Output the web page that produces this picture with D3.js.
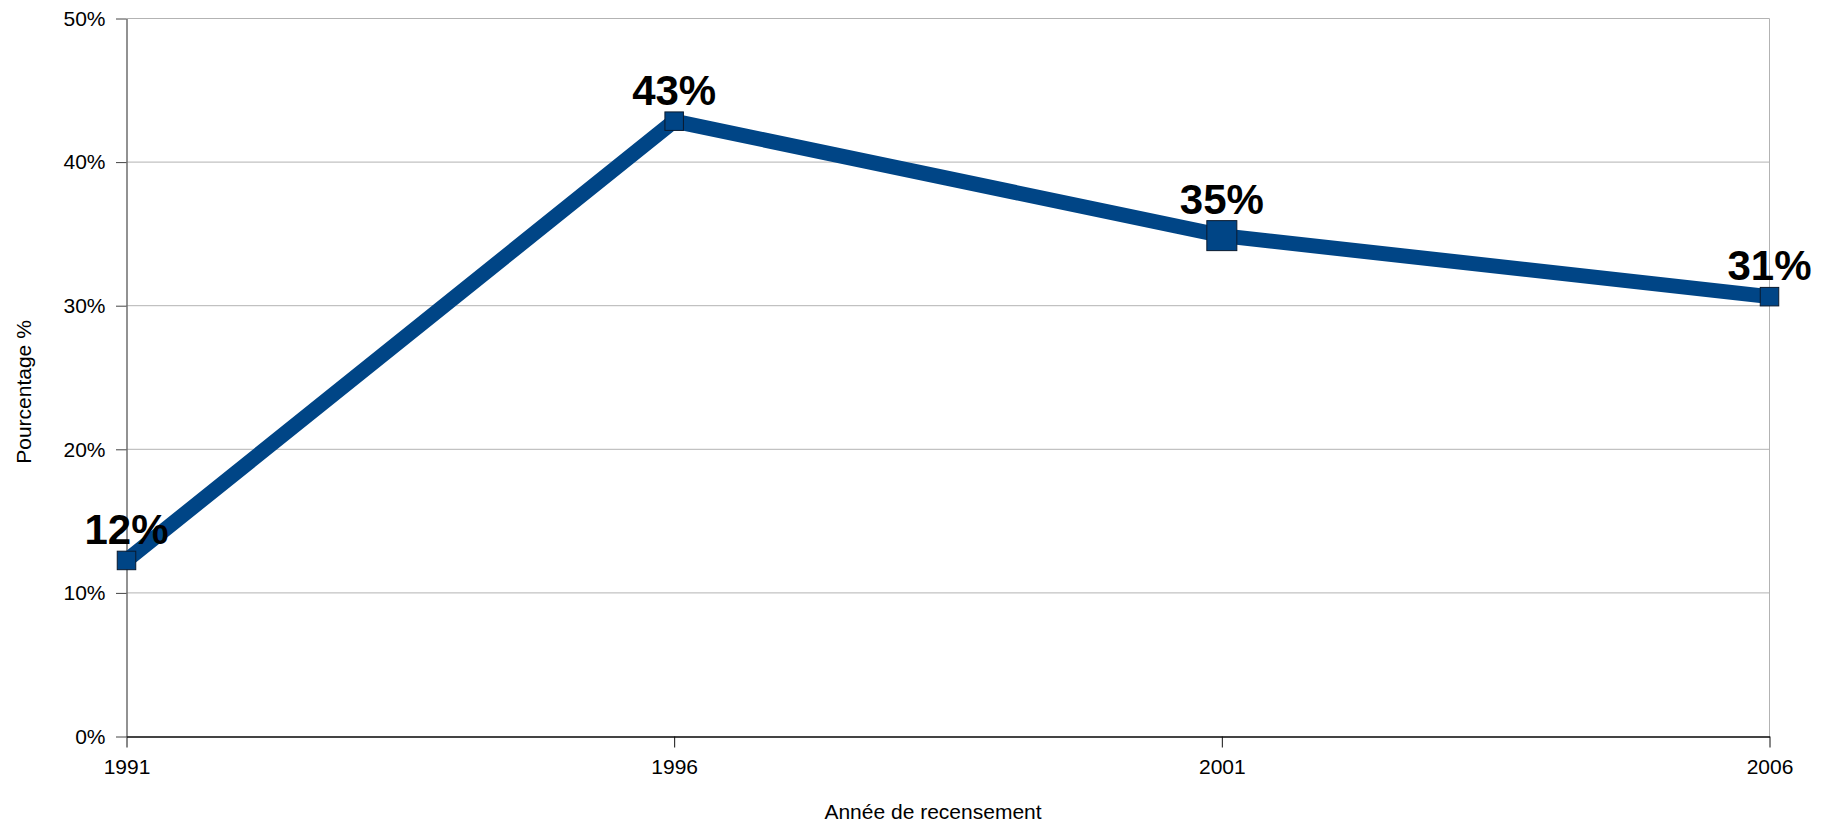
<!DOCTYPE html>
<html>
<head>
<meta charset="utf-8">
<script src="https://cdn.jsdelivr.net/npm/d3@7/dist/d3.min.js"></script>
<style>
  html, body { margin: 0; padding: 0; background: #fff; }
  svg { display: block; font-family: "Liberation Sans", Arial, sans-serif; }
</style>
</head>
<body>
<svg id="chart" width="1830" height="824"></svg>
<script>
// ---- data ----
const years = [1991, 1996, 2001, 2006];
const values = [0.1226, 0.4285, 0.3488, 0.3063];
const yTicks = [0, 0.1, 0.2, 0.3, 0.4, 0.5];
const xTitle = "Année de recensement";
const yTitle = "Pourcentage %";
const highlightYear = 2001;

(function () {
const data = years.map((yr, i) => ({ year: yr, value: values[i] }));

const svg = d3.select("#chart");
const pLeft = 126.5, pRight = 1769.5, pTop = 18.5, pBottom = 736.5;

const x = d3.scaleLinear().domain([years[0], years[years.length - 1]]).range([pLeft, pRight]);
const y = d3.scaleLinear().domain([0, 0.5]).range([pBottom, pTop]);
const pct = d3.format(".0%");

// gridlines
svg.append("g")
  .selectAll("line").data(yTicks.filter(t => t > 0)).join("line")
  .attr("x1", pLeft).attr("x2", pRight)
  .attr("y1", d => y(d)).attr("y2", d => y(d))
  .attr("stroke", "#b3b3b3").attr("stroke-width", 1);

// right border
svg.append("line")
  .attr("x1", pRight).attr("x2", pRight).attr("y1", pTop).attr("y2", pBottom)
  .attr("stroke", "#b3b3b3").attr("stroke-width", 1);

// y axis
const yAxis = svg.append("g")
  .attr("transform", `translate(${pLeft},0)`)
  .call(d3.axisLeft(y).tickValues(yTicks).tickFormat(pct).tickSize(10.5).tickSizeOuter(0).tickPadding(10.5));
yAxis.select(".domain").attr("stroke", "#6e6e6e").attr("stroke-width", 1.5);
yAxis.selectAll(".tick line").attr("stroke", "#444");
yAxis.selectAll("text").attr("font-size", 21).attr("fill", "#000")
  .attr("font-family", "'Liberation Sans', Arial, sans-serif");

// x axis
const xAxis = svg.append("g")
  .attr("transform", `translate(0,${pBottom})`)
  .call(d3.axisBottom(x).tickValues(years).tickFormat(d3.format("d")).tickSize(11).tickSizeOuter(0).tickPadding(12));
xAxis.select(".domain").attr("stroke", "#444").attr("stroke-width", 2);
xAxis.selectAll(".tick line").attr("stroke", "#111");
xAxis.selectAll("text").attr("font-size", 21).attr("fill", "#000")
  .attr("font-family", "'Liberation Sans', Arial, sans-serif");

// line
svg.append("path")
  .datum(data)
  .attr("fill", "none")
  .attr("stroke", "#004586")
  .attr("stroke-width", 15)
  .attr("stroke-linejoin", "miter")
  .attr("d", d3.line().x(d => x(d.year)).y(d => y(d.value)));

// markers
const half = d => d.year === highlightYear ? 15 : 9.25;
svg.append("g").selectAll("rect").data(data).join("rect")
  .attr("x", d => x(d.year) - half(d))
  .attr("y", d => y(d.value) - half(d))
  .attr("width", d => 2 * half(d))
  .attr("height", d => 2 * half(d))
  .attr("fill", "#004586")
  .attr("stroke", "#0a1a2e")
  .attr("stroke-width", 1);

// value labels
svg.append("g").selectAll("text").data(data).join("text")
  .attr("x", d => x(d.year))
  .attr("y", d => y(d.value) - half(d) - 7)
  .attr("text-anchor", "middle")
  .attr("font-size", 42)
  .attr("font-weight", "bold")
  .attr("fill", "#000")
  .text(d => pct(d.value));

// axis titles
svg.append("text")
  .attr("x", 933).attr("y", 819)
  .attr("text-anchor", "middle")
  .attr("font-size", 21)
  .attr("fill", "#000")
  .text(xTitle);

svg.append("text")
  .attr("transform", "translate(31,392) rotate(-90)")
  .attr("text-anchor", "middle")
  .attr("font-size", 21)
  .attr("fill", "#000")
  .text(yTitle);
})();
</script>
</body>
</html>
